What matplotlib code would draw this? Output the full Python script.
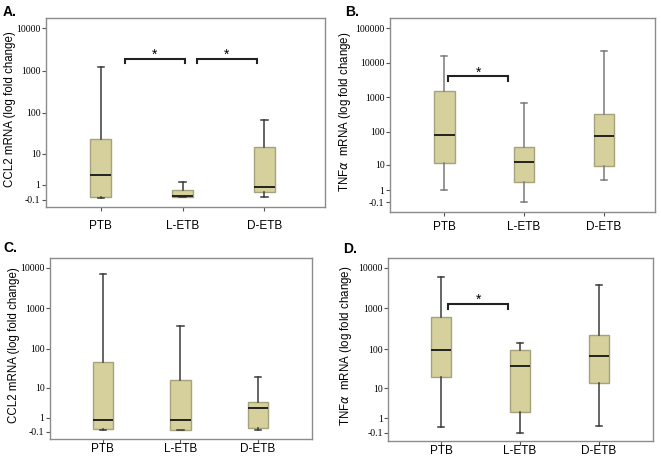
import matplotlib
matplotlib.use("Agg")
import matplotlib.pyplot as plt
import numpy as np

groups = ['PTB', 'L-ETB', 'D-ETB']
yticks = [-0.1, 1, 10, 100, 1000, 10000]
yticks_b = [-0.1, 1, 10, 100, 1000, 10000, 100000]

# five-number summaries: low whisker, q1, median, q3, high whisker
ccl2_a_lo = [0.0, 0.02, 0.04]
ccl2_a_q1 = [0.02, 0.02, 0.34]
ccl2_a_med = [2.4, 0.09, 0.82]
ccl2_a_q3 = [23, 0.55, 14.7]
ccl2_a_hi = [1220, 1.3, 67]

tnf_b_lo = [1.06, -0.09, 2.85]
tnf_b_q1 = [11.2, 2.5, 9.4]
tnf_b_med = [80, 12.1, 76]
tnf_b_q3 = [1560, 36, 320]
tnf_b_hi = [16150, 700, 22500]

ccl2_c_lo = [-0.04, -0.04, -0.04]
ccl2_c_q1 = [0.02, -0.02, 0.08]
ccl2_c_med = [0.70, 0.73, 2.5]
ccl2_c_q3 = [46, 15.5, 3.7]
ccl2_c_hi = [7100, 354, 18.6]

tnf_d_lo = [0.26, -0.10, 0.28]
tnf_d_q1 = [20, 1.9, 13.6]
tnf_d_med = [93, 38, 66]
tnf_d_q3 = [615, 93, 226]
tnf_d_hi = [6000, 141, 3700]

# significance brackets: (from, to, height, tick bottom)
sig_a = [(1.29, 2.03, 1890, 1490), (2.17, 2.91, 1890, 1490)]
sig_b = [(1.05, 1.80, 4150, 2970)]
sig_d = [(1.09, 1.85, 1310, 950)]

BOX_FILL = '#d5d09c'
BOX_EDGE = '#a6a27c'
W, H = 661.0, 462.0


def fwd(x):
    return np.log10(np.maximum(np.asarray(x, dtype=float) + 1.0, 1e-9))


def inv(y):
    return 10 ** np.asarray(y, dtype=float) - 1.0


def make_stats(lo, q1, med, q3, hi):
    stats = []
    for i in range(len(groups)):
        stats.append({'whislo': lo[i], 'q1': q1[i], 'med': med[i],
                      'q3': q3[i], 'whishi': hi[i], 'fliers': [], 'label': groups[i]})
    return stats


def rect_px(l, t, r, b):
    return [l / W, 1 - b / H, (r - l) / W, (b - t) / H]


def draw_panel(box, letter, letter_xy, ylabel, label_x, stats, ticks, ylim, xlim, sigs,
               whisk_col, xpad):
    ax = fig.add_axes(rect_px(*box))
    ax.set_yscale('function', functions=(fwd, inv))
    ax.bxp(stats, positions=[1, 2, 3], widths=0.26, patch_artist=True,
           showfliers=False,
           boxprops=dict(facecolor=BOX_FILL, edgecolor=BOX_EDGE, linewidth=1.0),
           medianprops=dict(color='#222222', linewidth=1.4),
           whiskerprops=dict(color=whisk_col, linewidth=1.1),
           capprops=dict(color=whisk_col, linewidth=1.1),
           capwidths=0.08)
    ax.set_ylim(*ylim)
    ax.set_xlim(*xlim)
    ax.set_yticks(ticks)
    ax.set_yticklabels([str(t) for t in ticks], fontfamily='Liberation Serif', fontsize=7)
    ax.yaxis.set_minor_locator(matplotlib.ticker.NullLocator())
    ax.set_xticks([1, 2, 3])
    ax.set_xticklabels(groups, fontfamily='Liberation Sans', fontsize=8.5)
    ax.tick_params(axis='y', length=3, width=0.8, color='#555555', pad=1)
    ax.tick_params(axis='x', length=3, width=0.8, color='#555555', pad=xpad)
    for sp in ax.spines.values():
        sp.set_color('#8c8c8c')
        sp.set_linewidth(1.0)
    ax.set_ylabel(ylabel, fontfamily='Liberation Sans', fontsize=8.3)
    ax.yaxis.set_label_coords(label_x, 0.52)
    for x0, x1, yt, yb in sigs:
        ax.plot([x0, x0, x1, x1], [yb, yt, yt, yb], color='#222222', lw=1.5,
                solid_joinstyle='miter', clip_on=False)
        ymid = inv(fwd(yt) + 0.1)
        ax.text((x0 + x1) / 2, ymid, '*', ha='center', va='center',
                fontfamily='Liberation Sans', fontsize=10)
    fig.text(letter_xy[0] / W, 1 - letter_xy[1] / H, letter, fontfamily='Liberation Sans',
             fontsize=10, fontweight='bold', ha='left', va='center')
    return ax


fig = plt.figure(figsize=(6.61, 4.62), dpi=100)

draw_panel((46, 18.3, 325, 207.3), 'A.', (3, 12), 'CCL2 mRNA (log fold change)', -0.109,
           make_stats(ccl2_a_lo, ccl2_a_q1, ccl2_a_med, ccl2_a_q3, ccl2_a_hi),
           yticks, (-0.41, 17200), (0.33, 3.74), sig_a, '#3a3a3a', 6)
draw_panel((390, 18.3, 655, 212.3), 'B.', (345, 12), r'TNF$\alpha$  mRNA (log fold change)', -0.1415,
           make_stats(tnf_b_lo, tnf_b_q1, tnf_b_med, tnf_b_q3, tnf_b_hi),
           yticks_b, (-0.54, 195000), (0.32, 3.64), sig_b, '#7a7a7a', 3)
draw_panel((50, 258.3, 311.7, 439.3), 'C.', (3, 248), 'CCL2 mRNA (log fold change)', -0.113,
           make_stats(ccl2_c_lo, ccl2_c_q1, ccl2_c_med, ccl2_c_q3, ccl2_c_hi),
           yticks, (-0.42, 17000), (0.32, 3.69), [], '#3a3a3a', 0)
draw_panel((388.3, 257.7, 653.3, 441), 'D.', (343, 249), r'TNF$\alpha$  mRNA (log fold change)', -0.131,
           make_stats(tnf_d_lo, tnf_d_q1, tnf_d_med, tnf_d_q3, tnf_d_hi),
           yticks, (-0.44, 17600), (0.33, 3.69), sig_d, '#3a3a3a', 0)

fig.savefig('out.png', dpi=100)
